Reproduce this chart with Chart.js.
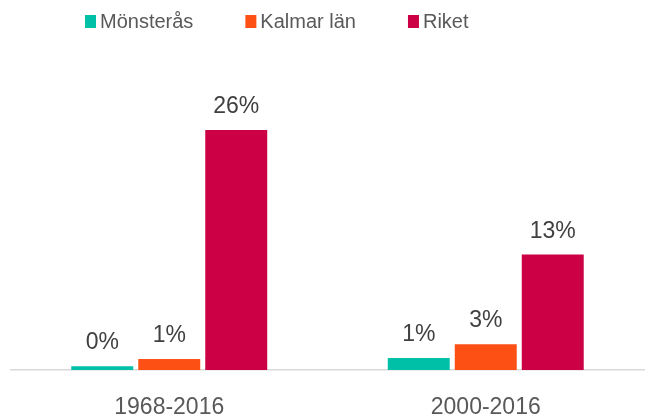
<!DOCTYPE html>
<html>
<head>
<meta charset="utf-8">
<script src="https://cdn.jsdelivr.net/npm/chart.js@4"></script>
<style>
  html, body { margin: 0; padding: 0; background: #fff; }
  #wrap { position: relative; width: 645px; height: 418px; }
</style>
</head>
<body>
<div id="wrap"><canvas id="chart"></canvas></div>
<script>
// Chart data
const categories = ['1968-2016', '2000-2016'];
const seriesNames = ['Mönsterås', 'Kalmar län', 'Riket'];
const monsteras = [0.4, 1.3];
const kalmar = [1.2, 2.8];
const riket = [26, 12.5];
const seriesColors = ['#00C0A8', '#FD5015', '#CC0044'];

const FONT = '"Liberation Sans", Arial, sans-serif';

// value labels above each bar
const valueLabels = {
  id: 'valueLabels',
  afterDatasetsDraw(chart) {
    const ctx = chart.ctx;
    ctx.save();
    ctx.font = '23px ' + FONT;
    ctx.fillStyle = '#404040';
    ctx.textAlign = 'center';
    ctx.textBaseline = 'alphabetic';
    chart.data.datasets.forEach((ds, i) => {
      chart.getDatasetMeta(i).data.forEach((bar, j) => {
        ctx.fillText(Math.round(ds.data[j]) + '%', bar.x, bar.y - 17);
      });
    });
    ctx.restore();
  }
};

// legend row at the top, drawn by hand to match spacing
const topLegend = {
  id: 'topLegend',
  afterDraw(chart) {
    const ctx = chart.ctx;
    ctx.save();
    ctx.font = '20px ' + FONT;
    ctx.textBaseline = 'middle';
    let x = 85;
    chart.data.datasets.forEach((ds) => {
      ctx.fillStyle = ds.backgroundColor;
      ctx.fillRect(x, 15, 11, 13);
      ctx.fillStyle = '#595959';
      ctx.fillText(ds.label, x + 15, 22);
      x += 15 + ctx.measureText(ds.label).width + 52;
    });
    ctx.restore();
  }
};

const seriesData = [monsteras, kalmar, riket];

new Chart(document.getElementById('chart'), {
  type: 'bar',
  data: {
    labels: categories,
    datasets: seriesNames.map((name, i) => ({
      label: name,
      data: seriesData[i],
      backgroundColor: seriesColors[i],
      categoryPercentage: 0.635,
      barPercentage: 0.925
    }))
  },
  options: {
    responsive: true,
    maintainAspectRatio: false,
    animation: false,
    layout: { padding: { top: 93, left: 11, right: 1, bottom: -27 } },
    plugins: {
      legend: { display: false },
      tooltip: { enabled: false }
    },
    scales: {
      x: {
        grid: { display: false, drawTicks: false },
        border: { display: true, color: '#D9D9D9', width: 1.5 },
        ticks: {
          color: '#595959',
          padding: 26,
          font: { family: FONT, size: 23, lineHeight: 1.0 }
        }
      },
      y: {
        display: false,
        min: 0,
        max: 30
      }
    }
  },
  plugins: [valueLabels, topLegend]
});
</script>
</body>
</html>
